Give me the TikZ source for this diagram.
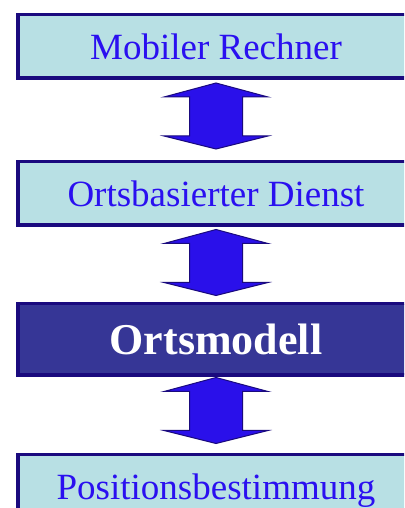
\documentclass[tikz,border=0pt]{standalone}
\usepackage{fontspec}
\setmainfont{Liberation Serif}
\definecolor{boxfill}{HTML}{B8E0E4}
\definecolor{boxline}{HTML}{1A0A7E}
\definecolor{txtblue}{HTML}{2A10F0}
\definecolor{arrowfill}{HTML}{2A10EA}
\definecolor{modelfill}{HTML}{363696}
\tikzset{
 layerbox/.style={draw=boxline, line width=3.5pt, fill=boxfill, minimum width=396.5pt, minimum height=63.5pt, inner sep=0pt, text=txtblue, font=\fontsize{37}{40}\selectfont, text height=26pt, text depth=0pt},
 modelbox/.style={layerbox, fill=modelfill, text=white, font=\fontsize{44}{48}\selectfont\bfseries, text height=30pt, minimum height=71.5pt},
 pics/udarrow/.style={code={\draw[draw=boxline, line width=1pt, fill=arrowfill, line join=miter] (0,33) -- (52,19) -- (26.5,19) -- (26.5,-20) -- (52,-20) -- (0,-33) -- (-52,-20) -- (-26.5,-20) -- (-26.5,19) -- (-52,19) -- cycle;}}
}
\begin{document}
\begin{tikzpicture}[x=1pt,y=1pt]
\useasboundingbox (0,0) rectangle (404,508);
\clip (0,0) rectangle (404,508);
\node[layerbox] (b1) at (216,461.5) {Mobiler Rechner};
\node[layerbox] (b2) at (216,314.5) {Ortsbasierter Dienst};
\node[modelbox] (b3) at (216,168.5) {Ortsmodell};
\node[layerbox] (b4) at (216,21.5) {Positionsbestimmung};
\coordinate (a1) at (216,392);
\coordinate (a2) at (216,245.5);
\coordinate (a3) at (216,97.5);
\pic at (a1) {udarrow};
\pic at (a2) {udarrow};
\pic at (a3) {udarrow};
\end{tikzpicture}
\end{document}
